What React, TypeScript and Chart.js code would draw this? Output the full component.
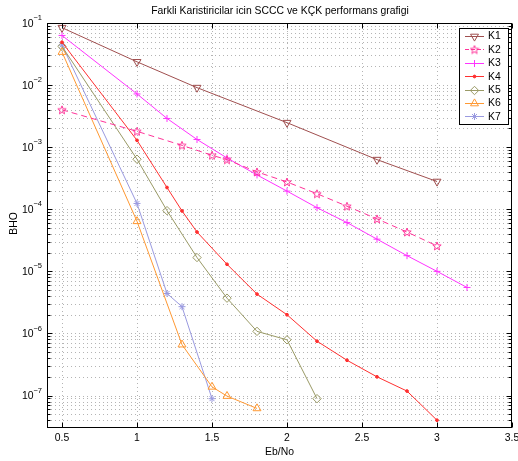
import React, { useEffect, useRef } from 'react';
import { Chart, registerables } from 'chart.js';
import { drawPoint } from 'chart.js/helpers';
Chart.register(...registerables);

const chartTitle = 'Farkli Karistiricilar icin SCCC ve KÇK performans grafigi';
const xTitle = 'Eb/No';
const yTitle = 'BHO';

const xTicks = [0.5, 1, 1.5, 2, 2.5, 3, 3.5];
const xTickLabels = ['0.5', '1', '1.5', '2', '2.5', '3', '3.5'];
const yDecadeExps = [-7, -6, -5, -4, -3, -2, -1];
const xMin = 0.4;
const xMax = 3.5;
const yMin = Math.pow(10, -7.5);
const yMax = 0.1;

const seriesNames = ['K1', 'K2', 'K3', 'K4', 'K5', 'K6', 'K7'];

const k1x = [0.5, 1, 1.4, 2, 2.6, 3];
const k1y = [0.084, 0.0237, 0.0091, 0.00248, 6.3e-4, 2.8e-4];

const k2x = [0.5, 1, 1.3, 1.5, 1.6, 1.8, 2, 2.2, 2.4, 2.6, 2.8, 3];
const k2y = [0.004, 1.8e-3, 1.07e-3, 7.4e-4, 6.3e-4, 4.0e-4, 2.75e-4, 1.78e-4, 1.12e-4, 7.0e-5, 4.3e-5, 2.57e-5];

const k3x = [0.5, 1, 1.2, 1.4, 1.6, 1.8, 2, 2.2, 2.4, 2.6, 2.8, 3, 3.2];
const k3y = [0.063, 7.2e-3, 2.9e-3, 1.33e-3, 6.7e-4, 3.57e-4, 1.96e-4, 1.06e-4, 6.1e-5, 3.3e-5, 1.79e-5, 1.0e-5, 5.5e-6];

const k4x = [0.5, 1, 1.2, 1.3, 1.4, 1.6, 1.8, 2, 2.2, 2.4, 2.6, 2.8, 3];
const k4y = [0.049, 1.29e-3, 2.24e-4, 9.4e-5, 4.3e-5, 1.3e-5, 4.3e-6, 2.0e-6, 7.5e-7, 3.7e-7, 2.0e-7, 1.18e-7, 4.0e-8];

const k5x = [0.5, 1, 1.2, 1.4, 1.6, 1.8, 2, 2.2];
const k5y = [0.042, 6.4e-4, 9.5e-5, 1.67e-5, 3.7e-6, 1.08e-6, 7.9e-7, 8.9e-8];

const k6x = [0.5, 1, 1.3, 1.5, 1.6, 1.8];
const k6y = [0.034, 6.4e-5, 6.6e-7, 1.38e-7, 9.8e-8, 6.2e-8];

const k7x = [0.5, 1, 1.2, 1.3, 1.5];
const k7y = [0.044, 1.24e-4, 4.4e-6, 2.7e-6, 8.9e-8];

const colors = ['#a04f4f', '#ff3399', '#ff33ff', '#ff3030', '#9a9a66', '#ff9933', '#9a9ae0'];

const FONT = '"Liberation Sans", Arial, Helvetica, sans-serif';

function makePentagram(color: string) {
  const c = document.createElement('canvas');
  c.width = 10;
  c.height = 10;
  const g = c.getContext('2d')!;
  g.strokeStyle = color;
  g.lineWidth = 1;
  g.beginPath();
  for (let i = 0; i < 10; i++) {
    const r = i % 2 === 0 ? 4.4 : 1.9;
    const ang = -Math.PI / 2 + (i * Math.PI) / 5;
    const px = 5 + r * Math.cos(ang);
    const py = 5.4 + r * Math.sin(ang);
    if (i === 0) g.moveTo(px, py);
    else g.lineTo(px, py);
  }
  g.closePath();
  g.stroke();
  return c;
}

function toPts(xs: number[], ys: number[]) {
  return xs.map((x, i) => ({ x, y: ys[i] }));
}

export default function App() {
  const ref = useRef<HTMLCanvasElement | null>(null);

  useEffect(() => {
    const canvas = ref.current;
    if (!canvas) return;
    const star5 = makePentagram(colors[1]);

    const styles: any[] = [
      { pointStyle: 'triangle', rotation: 180, radius: 4.6, fill: 'rgba(0,0,0,0)', dash: [] },
      { pointStyle: star5, rotation: 0, radius: 5, fill: 'rgba(0,0,0,0)', dash: [6, 4] },
      { pointStyle: 'cross', rotation: 0, radius: 3.5, fill: 'rgba(0,0,0,0)', dash: [] },
      { pointStyle: 'circle', rotation: 0, radius: 1.4, fill: colors[3], dash: [] },
      { pointStyle: 'rectRot', rotation: 0, radius: 4.2, fill: 'rgba(0,0,0,0)', dash: [] },
      { pointStyle: 'triangle', rotation: 0, radius: 4.6, fill: 'rgba(0,0,0,0)', dash: [] },
      { pointStyle: 'star', rotation: 0, radius: 3.5, fill: 'rgba(0,0,0,0)', dash: [] },
    ];
    const xsAll = [k1x, k2x, k3x, k4x, k5x, k6x, k7x];
    const ysAll = [k1y, k2y, k3y, k4y, k5y, k6y, k7y];

    const datasets = seriesNames.map((name, i) => ({
      label: name,
      data: toPts(xsAll[i], ysAll[i]),
      borderColor: colors[i],
      backgroundColor: colors[i],
      borderWidth: 1,
      borderDash: styles[i].dash,
      pointStyle: styles[i].pointStyle,
      rotation: styles[i].rotation,
      pointRadius: styles[i].radius,
      pointBorderWidth: 1,
      pointBorderColor: colors[i],
      pointBackgroundColor: styles[i].fill,
      fill: false,
      tension: 0,
      showLine: true,
    }));

    const framePlugin = {
      id: 'frame',
      beforeDraw(chart: any) {
        const ctx = chart.ctx;
        ctx.save();
        ctx.fillStyle = '#ffffff';
        ctx.fillRect(0, 0, chart.width, chart.height);
        ctx.restore();
      },
      beforeDatasetsDraw(chart: any) {
        const { ctx, chartArea: a, scales } = chart;
        const xs = scales.x;
        const ys = scales.y;
        ctx.save();
        ctx.strokeStyle = '#b4b4b4';
        ctx.lineWidth = 1;
        ctx.setLineDash([1, 3]);
        for (const v of xTicks) {
          const px = Math.round(xs.getPixelForValue(v)) + 0.5;
          if (px <= a.left + 1 || px >= a.right - 1) continue;
          ctx.beginPath();
          ctx.moveTo(px, a.top);
          ctx.lineTo(px, a.bottom);
          ctx.stroke();
        }
        for (let d = -8; d <= -1; d++) {
          for (let m = 1; m <= 9; m++) {
            const v = m * Math.pow(10, d);
            if (v <= yMin || v >= yMax) continue;
            const py = Math.round(ys.getPixelForValue(v)) + 0.5;
            ctx.beginPath();
            ctx.moveTo(a.left, py);
            ctx.lineTo(a.right, py);
            ctx.stroke();
          }
        }
        ctx.restore();
      },
      afterDraw(chart: any) {
        const { ctx, chartArea: a, scales } = chart;
        const xs = scales.x;
        const ys = scales.y;
        ctx.save();
        ctx.setLineDash([]);
        ctx.strokeStyle = '#000000';
        ctx.lineWidth = 1;
        const L = Math.round(a.left) + 0.5;
        const R = Math.round(a.right) - 0.5;
        const T = Math.round(a.top) + 0.5;
        const B = Math.round(a.bottom) - 0.5;
        ctx.strokeRect(L, T, R - L, B - T);
        for (const v of xTicks) {
          const px = Math.round(xs.getPixelForValue(v)) + 0.5;
          ctx.beginPath();
          ctx.moveTo(px, B);
          ctx.lineTo(px, B - 5);
          ctx.moveTo(px, T);
          ctx.lineTo(px, T + 5);
          ctx.stroke();
        }
        for (let d = -8; d <= -1; d++) {
          for (let m = 1; m <= 9; m++) {
            const v = m * Math.pow(10, d);
            if (v < yMin || v > yMax * 1.0001) continue;
            const py = Math.round(ys.getPixelForValue(v)) + 0.5;
            const len = m === 1 ? 5 : 3;
            ctx.beginPath();
            ctx.moveTo(L, py);
            ctx.lineTo(L + len, py);
            ctx.moveTo(R, py);
            ctx.lineTo(R - len, py);
            ctx.stroke();
          }
        }
        ctx.fillStyle = '#000000';
        ctx.font = `10.4px ${FONT}`;
        ctx.textAlign = 'center';
        ctx.textBaseline = 'middle';
        xTicks.forEach((v, i) => {
          const px = xs.getPixelForValue(v);
          ctx.fillText(xTickLabels[i], px, a.bottom + 10);
        });
        for (const e of yDecadeExps) {
          const py = ys.getPixelForValue(Math.pow(10, e));
          const expStr = '\u2212' + String(-e);
          ctx.font = `7.5px ${FONT}`;
          const ew = ctx.measureText(expStr).width;
          ctx.textAlign = 'right';
          ctx.textBaseline = 'middle';
          ctx.fillText(expStr, a.left - 5, py - 5);
          ctx.font = `10.4px ${FONT}`;
          ctx.fillText('10', a.left - 5 - ew, py + 1);
        }
        ctx.font = `10.4px ${FONT}`;
        ctx.textAlign = 'center';
        ctx.textBaseline = 'middle';
        ctx.fillText(xTitle, (a.left + a.right) / 2, a.bottom + 24);
        ctx.save();
        ctx.translate(14, (a.top + a.bottom) / 2 - 2);
        ctx.rotate(-Math.PI / 2);
        ctx.fillText(yTitle, 0, 0);
        ctx.restore();
        ctx.fillText(chartTitle, (a.left + a.right) / 2 + 0.5, 11);

        const lx = 459.5, ly = 28.5, lw = 49, lh = 96;
        ctx.fillStyle = '#ffffff';
        ctx.fillRect(lx, ly, lw, lh);
        ctx.strokeStyle = '#000000';
        ctx.strokeRect(lx, ly, lw, lh);
        seriesNames.forEach((name, i) => {
          const cy = 36 + i * 13.4;
          ctx.setLineDash(styles[i].dash.length ? [4, 2] : []);
          ctx.strokeStyle = colors[i];
          ctx.lineWidth = 1;
          ctx.beginPath();
          ctx.moveTo(465, Math.round(cy) + 0.5);
          ctx.lineTo(484, Math.round(cy) + 0.5);
          ctx.stroke();
          ctx.setLineDash([]);
          ctx.fillStyle = styles[i].fill;
          ctx.strokeStyle = colors[i];
          drawPoint(ctx, {
            pointStyle: styles[i].pointStyle,
            rotation: styles[i].rotation,
            radius: styles[i].radius,
            borderWidth: 1,
          } as any, 474.5, Math.round(cy) + 0.5);
          ctx.fillStyle = '#000000';
          ctx.font = `10.4px ${FONT}`;
          ctx.textAlign = 'left';
          ctx.textBaseline = 'middle';
          ctx.fillText(name, 488, cy + 0.5);
        });
        ctx.restore();
      },
    };

    const chart = new Chart(canvas, {
      type: 'line',
      data: { datasets: datasets as any },
      options: {
        animation: false,
        responsive: false,
        devicePixelRatio: 1,
        layout: { padding: { left: 47, top: 23, right: 6, bottom: 33 } },
        plugins: { legend: { display: false }, title: { display: false }, tooltip: { enabled: false } },
        scales: {
          x: { type: 'linear', min: xMin, max: xMax, display: false },
          y: { type: 'logarithmic', min: yMin, max: yMax, display: false },
        },
      },
      plugins: [framePlugin as any],
    });
    return () => chart.destroy();
  }, []);

  return (
    <div style={{ position: 'fixed', left: 0, top: 0, width: 518, height: 461, background: '#fff' }}>
      <canvas ref={ref} width={518} height={461} style={{ display: 'block', width: 518, height: 461 }} />
    </div>
  );
}
